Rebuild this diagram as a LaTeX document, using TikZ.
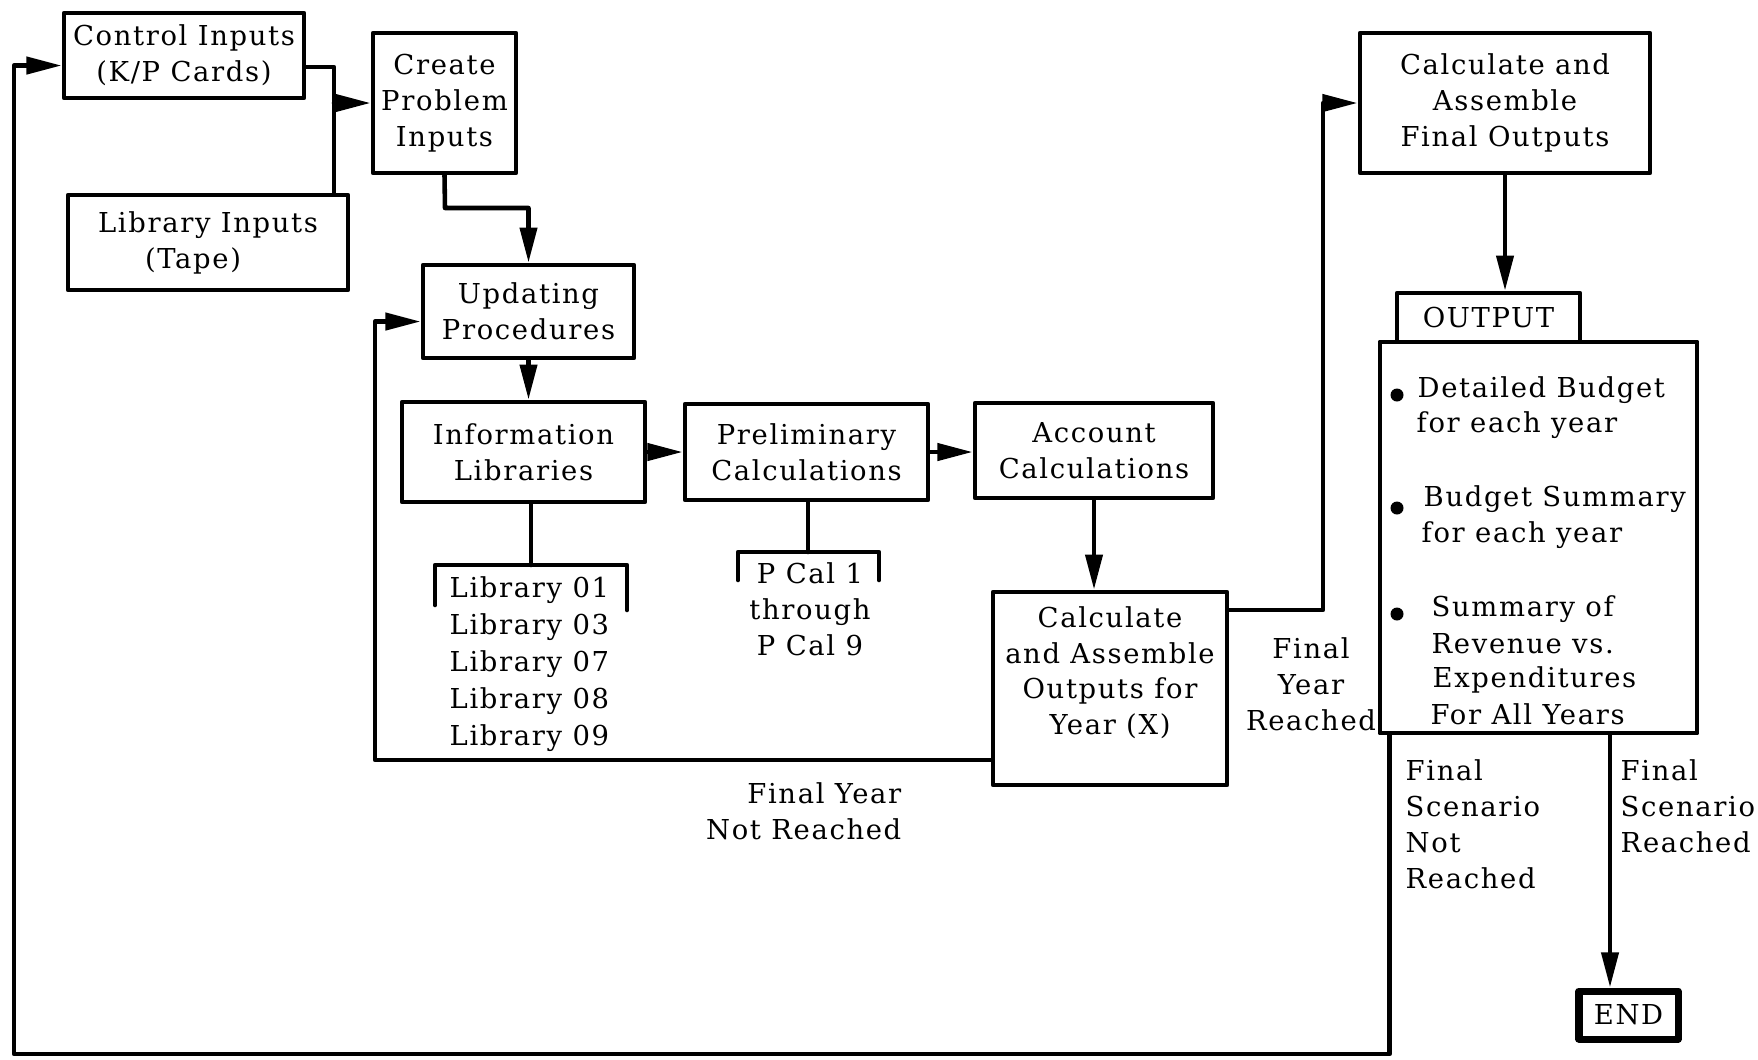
\documentclass[tikz,border=0pt]{standalone}
\usepackage{fontspec}
\setmainfont{DejaVu Serif}[LetterSpace=6]
\usetikzlibrary{arrows.meta,calc}

\begin{document}
\begin{tikzpicture}[x=0.01cm,y=-0.01cm,line cap=round,line join=round,
  font=\fontsize{7.8pt}{10.2pt}\selectfont,
  box/.style={draw,line width=1.3pt,align=center,inner sep=0pt},
  wire/.style={line width=1.3pt},
  arr/.style={wire,-{Triangle[length=10pt,width=4.8pt]}},
  txt/.style={inner sep=0pt}]
  \useasboundingbox (0,0) rectangle (1758,1059);
  \node[box,minimum width=2.40cm,minimum height=0.85cm] (ctrl) at (184,55.5) {Control Inputs\\(K/P Cards)};
  \node[box,minimum width=1.43cm,minimum height=1.40cm] (create) at (444.5,103) {Create\\Problem\\Inputs};
  \node[box,minimum width=2.80cm,minimum height=0.95cm,align=left] (libin) at (208,242.5) {Library Inputs\\\hspace*{0.47cm}(Tape)};
  \node[box,minimum width=2.11cm,minimum height=0.93cm] (upd) at (528.5,311.5) {Updating\\Procedures};
  \node[box,minimum width=2.43cm,minimum height=1.00cm] (info) at (523.5,452) {Information\\Libraries};
  \node[box,minimum width=2.43cm,minimum height=0.96cm] (prelim) at (806.5,452) {Preliminary\\Calculations};
  \node[box,minimum width=2.38cm,minimum height=0.95cm] (acct) at (1094,450.5) {Account\\Calculations};
  \node[box,minimum width=2.34cm,minimum height=1.93cm] (calcyr) at (1110,688.5) {Calculate\\and Assemble\\Outputs for\\Year (X)\\\mbox{}};
  \node[box,minimum width=2.90cm,minimum height=1.40cm] (final) at (1505,103) {Calculate and\\Assemble\\Final Outputs};
  \node[box,minimum width=1.83cm,minimum height=0.49cm] (outtab) at (1488.5,317.5) {OUTPUT};
  \node[box,minimum width=3.17cm,minimum height=3.91cm] (outbox) at (1538.5,537.5) {};
  \node[box,line width=2pt,minimum width=0.99cm,minimum height=0.48cm] (endn) at (1628.5,1015) {END};
  \foreach \x/\y/\t [count=\i] in {1417/397/Detailed Budget,1416/432/for each year,1423/506/Budget Summary,1421/542/for each year,1431/616/Summary of,1431/653/Revenue vs.,1432/687/Expenditures,1430/724/For All Years}
    \node[txt,anchor=base west] (item\i) at (\x,\y) {\t};
  \foreach \y in {395,508,614} \fill (1397,\y) circle (0.065cm);
  \foreach \n [count=\i] in {01,03,07,08,09}
    \node[txt,anchor=base west] (lib\i) at (449,{597+37*(\i-1)}) {Library \n};
  \node[txt,align=center,anchor=north] (pcal) at (810,562) {P Cal 1\\through\\P Cal 9};
  \node[txt,align=right,anchor=north east] (notyr) at (902,782) {Final Year\\Not Reached};
  \node[txt,align=center,anchor=north] (yrok) at (1311,637) {Final\\Year\\Reached};
  \node[txt,align=left,anchor=north west] (scnot) at (1405,759) {Final\\Scenario\\Not\\Reached};
  \node[txt,align=left,anchor=north west] (scok) at (1620,759) {Final\\Scenario\\Reached};
  \coordinate (lbk) at (531,565);
  \draw[wire] (lbk |- info.south) -- (lbk);
  \draw[wire] (435,605) |- (627,565) -- (627,610);
  \coordinate (pbk) at (808,552);
  \draw[wire] (pbk |- prelim.south) -- (pbk);
  \draw[wire] (738,580) |- (879,552) -- (879,580);
  \coordinate (jn) at (334,67);
  \draw[wire] (ctrl.east |- jn) -- (jn) -- (jn |- libin.north);
  \draw[arr] (jn |- create.west) -- (create.west);
  \coordinate (cb) at (445,208);
  \draw[arr] (create.south) -- (cb) -| (upd.north);
  \draw[arr] (upd.south) -- (upd.south |- info.north);
  \draw[arr] (info.east) -- (info.east -| prelim.west);
  \draw[arr] (prelim.east) -- (prelim.east -| acct.west);
  \draw[arr] (acct.south) -- (acct.south |- calcyr.north);
  \coordinate (fy) at (1323,610);
  \draw[arr] (calcyr.east |- fy) -- (fy) |- (final.west);
  \draw[arr] (final.south) -- (final.south |- outtab.north);
  \coordinate (lp) at (375,760);
  \draw[arr] (calcyr.west |- lp) -- (lp) |- ([yshift=-0.1cm]upd.west);
  \coordinate (ob) at (14,1054);
  \draw[arr] ([xshift=0.12cm]outbox.south west) |- (ob) |- ([yshift=-0.1cm]ctrl.west);
  \draw[arr] ([xshift=-0.185cm]endn.north |- outbox.south) -- ([xshift=-0.185cm]endn.north);
\end{tikzpicture}
\end{document}
